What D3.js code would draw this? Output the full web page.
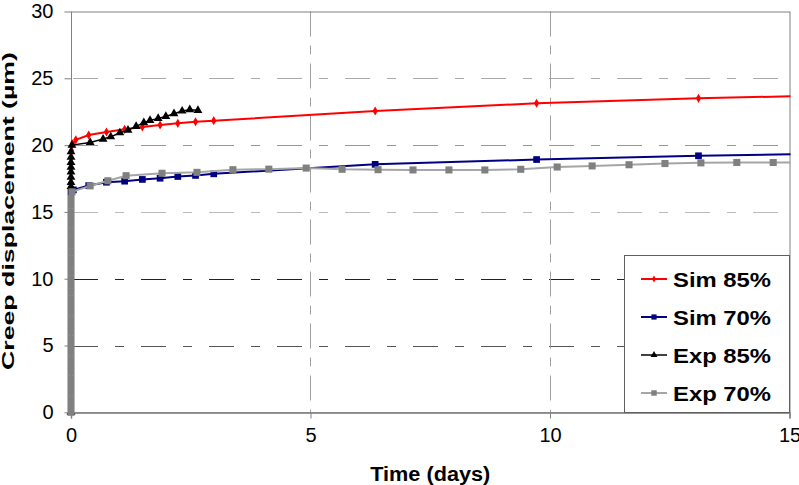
<!DOCTYPE html>
<html lang="en">
<head>
<meta charset="UTF-8">
<title>Creep displacement</title>
<script src="https://d3js.org/d3.v7.min.js"></script>
<style>
    body { margin: 0; background: #fff; }
    svg { display: block; font-family: "Liberation Sans", Arial, sans-serif; }
    .axis path, .axis line { stroke: #808080; }
    .axis text { font-size: 20px; fill: #000; }
    .legend text { font-size: 21px; font-weight: bold; }
</style>
</head>
<body>
<svg width="799" height="485"></svg>
<script>
// Sim 85% (red)
const sim85Time = [0, 0.01, 0.03, 0.1, 0.37, 0.74, 1.12, 1.49, 1.86, 2.23, 2.6, 2.98, 6.35, 9.72, 13.1, 15.3];
const sim85Disp = [17.2, 19.6, 20.1, 20.4, 20.76, 20.98, 21.18, 21.35, 21.5, 21.63, 21.75, 21.83, 22.55, 23.13, 23.5, 23.68];

// Sim 70% (navy)
const sim70Time = [0, 0.05, 0.37, 0.74, 1.12, 1.49, 1.86, 2.23, 2.6, 2.98, 6.35, 9.72, 13.1, 15.3];
const sim70Disp = [16.5, 16.65, 16.97, 17.22, 17.3, 17.43, 17.52, 17.65, 17.73, 17.85, 18.56, 18.92, 19.2, 19.33];

// Exp 85% (black)
const exp85Time = [0, 0, 0, 0, 0, 0, 0, 0, 0, 0.02, 0.4, 0.67, 0.83, 1.02, 1.19, 1.36, 1.52, 1.65, 1.82, 1.98, 2.15, 2.32, 2.48, 2.65];
const exp85Disp = [0, 16.9, 17.2, 17.6, 18.0, 18.35, 18.7, 19.1, 19.5, 20.0, 20.2, 20.45, 20.62, 20.92, 21.12, 21.4, 21.68, 21.85, 22.0, 22.15, 22.35, 22.55, 22.65, 22.6];

// Exp 70% (gray) - loading ramp recorded at t = 0, then the creep readings
const exp70Time = [0, 0, 0, 0, 0, 0, 0, 0, 0, 0, 0, 0, 0, 0, 0, 0, 0, 0, 0, 0, 0, 0, 0, 0, 0, 0, 0, 0, 0, 0, 0, 0, 0, 0.02,
    0.4, 0.77, 1.15, 1.9, 2.63, 3.38, 4.13, 4.91, 5.66, 6.41, 7.14, 7.89, 8.64, 9.39, 10.15, 10.88, 11.65, 12.4, 13.15, 13.9, 14.66, 15.4];
const exp70Disp = [0, 0.5, 1, 1.5, 2, 2.5, 3, 3.5, 4, 4.5, 5, 5.5, 6, 6.5, 7, 7.5, 8, 8.5, 9, 9.5, 10, 10.5, 11, 11.5, 12, 12.5, 13, 13.5, 14, 14.5, 15, 15.5, 16, 16.5,
    16.95, 17.33, 17.71, 17.89, 17.96, 18.16, 18.2, 18.28, 18.19, 18.16, 18.14, 18.14, 18.14, 18.19, 18.36, 18.44, 18.53, 18.62, 18.67, 18.7, 18.7, 18.7];

const xTicks = [0, 5, 10, 15];
const yTicks = [0, 5, 10, 15, 20, 25, 30];
const seriesNames = ["Sim 85%", "Sim 70%", "Exp 85%", "Exp 70%"];

const svg = d3.select("svg");
const plotLeft = 71, plotRight = 789.5, plotTop = 11.5, plotBottom = 412.3;

const x = d3.scaleLinear().domain([0, 15]).range([plotLeft, plotRight]);
const y = d3.scaleLinear().domain([0, 30]).range([plotBottom, plotTop]);

// horizontal gridlines (the scan renders them in uneven greys)
const gridTone = {5: "#555", 10: "#222", 15: "#bbb", 20: "#999", 25: "#aaa"};
svg.append("g").selectAll("line")
    .data(yTicks.filter(d => d > 0 && d < 30))
    .join("line")
    .attr("x1", plotLeft + 2).attr("x2", plotRight)
    .attr("y1", d => Math.round(y(d)) + 0.5).attr("y2", d => Math.round(y(d)) + 0.5)
    .attr("stroke", d => gridTone[d])
    .attr("stroke-dasharray", "25,17,9,17");

// vertical gridlines
svg.append("g").selectAll("line")
    .data(xTicks.filter(d => d > 0 && d < 15))
    .join("line")
    .attr("x1", d => Math.round(x(d)) + 0.5).attr("x2", d => Math.round(x(d)) + 0.5)
    .attr("y1", plotTop).attr("y2", plotBottom)
    .attr("stroke", "#a0a0a0")
    .attr("stroke-dasharray", "25,9,9,9");

// plot border
svg.append("rect")
    .attr("x", plotLeft + 0.5).attr("y", plotTop + 0.5)
    .attr("width", plotRight - plotLeft).attr("height", plotBottom - plotTop)
    .attr("fill", "none").attr("stroke", "#808080");

// axes
svg.append("g").attr("class", "axis")
    .attr("transform", `translate(${plotLeft + 0.5},0)`)
    .call(d3.axisLeft(y).tickValues(yTicks).tickSize(7).tickPadding(11))
    .call(g => g.select(".domain").remove());

svg.append("g").attr("class", "axis")
    .attr("transform", `translate(0,${Math.round(plotBottom) + 0.5})`)
    .call(d3.axisBottom(x).tickValues(xTicks).tickSize(6).tickPadding(9))
    .call(g => g.select(".domain").attr("stroke-width", 1.5));

// axis titles
svg.append("text")
    .attr("x", (plotLeft + plotRight) / 2).attr("y", 481)
    .attr("text-anchor", "middle")
    .attr("font-size", 20).attr("font-weight", "bold")
    .attr("textLength", 120).attr("lengthAdjust", "spacingAndGlyphs")
    .text("Time (days)");

svg.append("text")
    .attr("transform", "translate(14,211) rotate(-90)")
    .attr("text-anchor", "middle")
    .attr("font-size", 17).attr("font-weight", "bold")
    .attr("textLength", 318).attr("lengthAdjust", "spacingAndGlyphs")
    .text("Creep displacement (\u00b5m)");

// series
svg.append("clipPath").attr("id", "clip")
    .append("rect").attr("x", 0).attr("y", 0).attr("width", plotRight + 1).attr("height", 485);

const series = [
    {time: sim85Time, disp: sim85Disp, line: "#ff0000", mark: "#ff0000", width: 2, symbol: d3.symbolDiamond, size: 24},
    {time: sim70Time, disp: sim70Disp, line: "#000080", mark: "#000080", width: 2, symbol: d3.symbolSquare, size: 45},
    {time: exp85Time, disp: exp85Disp, line: "#000000", mark: "#000000", width: 1.5, symbol: d3.symbolTriangle, size: 34},
    {time: exp70Time, disp: exp70Disp, line: "#a6a6a6", mark: "#808080", width: 2, symbol: d3.symbolSquare, size: 50}
];

const line = d3.line().x(d => x(d[0])).y(d => y(d[1]));
const plot = svg.append("g").attr("clip-path", "url(#clip)");

series.forEach(s => {
    const pts = s.time.map((t, i) => [t, s.disp[i]]);
    plot.append("path")
        .attr("d", line(pts))
        .attr("fill", "none")
        .attr("stroke", s.line)
        .attr("stroke-width", s.width);
    plot.append("g").selectAll("path")
        .data(pts)
        .join("path")
        .attr("transform", d => `translate(${x(d[0])},${y(d[1])})`)
        .attr("d", d3.symbol(s.symbol, s.size))
        .attr("fill", s.mark);
});

// legend
const legend = svg.append("g").attr("class", "legend");
legend.append("rect")
    .attr("x", 624.5).attr("y", 255.5).attr("width", 165).attr("height", 157)
    .attr("fill", "#fff").attr("stroke", "#606060");

const rowY = d3.scalePoint().domain(seriesNames).range([279, 393]);
series.forEach((s, i) => {
    const yy = rowY(seriesNames[i]);
    legend.append("line")
        .attr("x1", 641).attr("x2", 667).attr("y1", yy).attr("y2", yy)
        .attr("stroke", s.line).attr("stroke-width", s.width);
    legend.append("path")
        .attr("transform", `translate(654,${yy})`)
        .attr("d", d3.symbol(s.symbol, s.size * 0.6))
        .attr("fill", s.mark);
    legend.append("text")
        .attr("x", 673).attr("y", yy + 7.5)
        .attr("textLength", 98).attr("lengthAdjust", "spacingAndGlyphs")
        .text(seriesNames[i]);
});
</script>
</body>
</html>
